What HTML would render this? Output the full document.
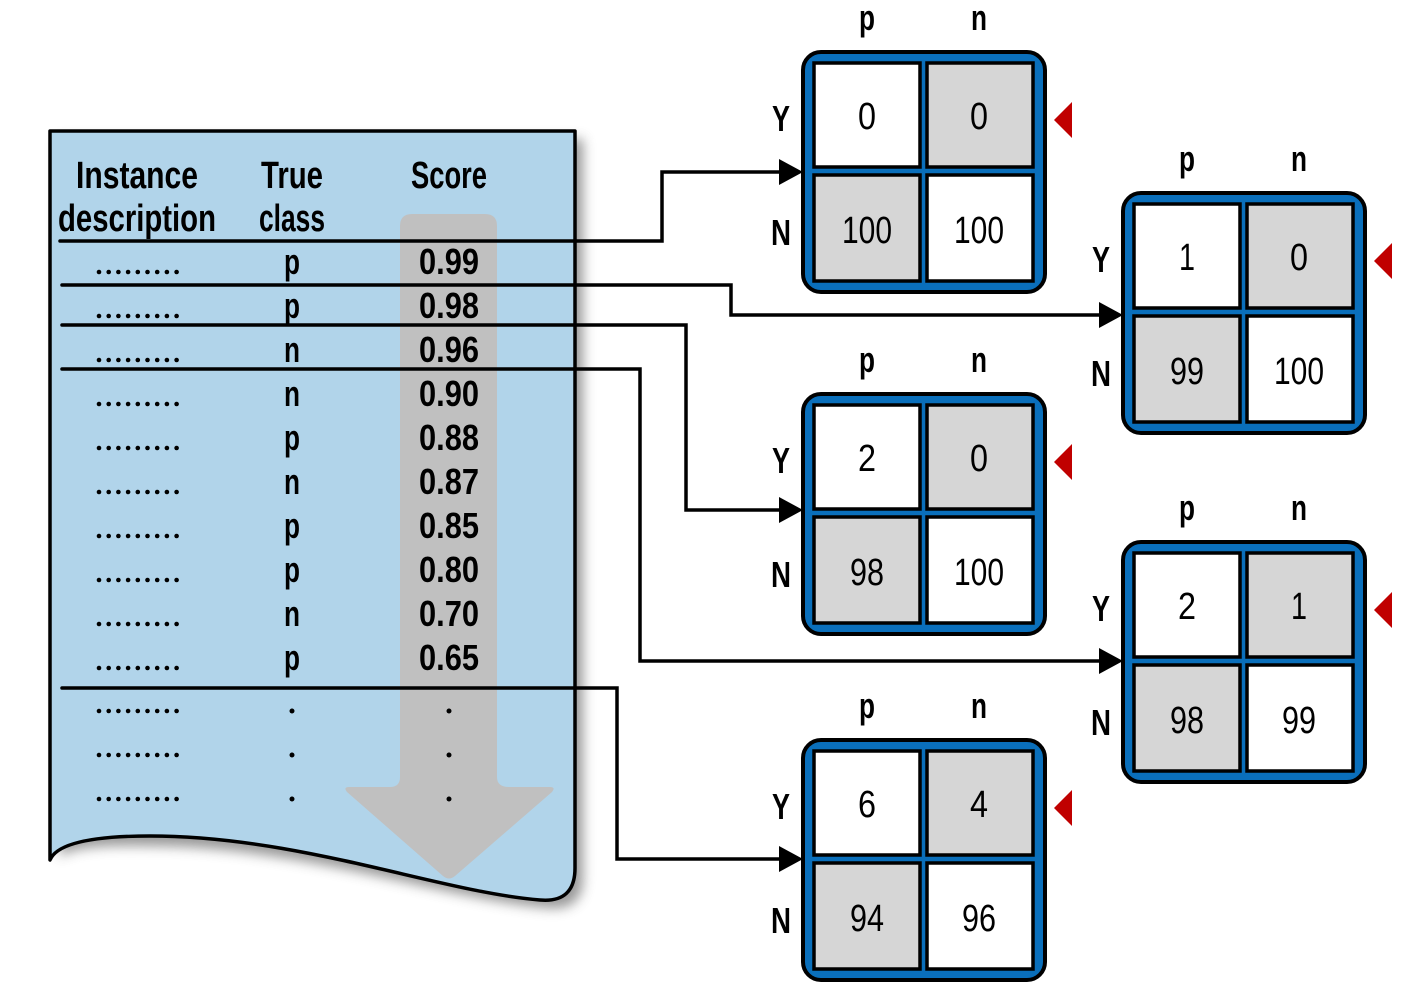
<!DOCTYPE html>
<html><head><meta charset="utf-8"><style>
html,body{margin:0;padding:0;background:#fff;width:1411px;height:1000px;overflow:hidden}
svg{display:block}
text{font-family:"Liberation Sans",sans-serif}
.h{font-size:38px;font-weight:bold}
.r{font-size:36px;font-weight:bold}
.l{font-size:36px;font-weight:bold}
.v{font-size:38px}
</style></head><body>
<svg width="1411" height="1000" viewBox="0 0 1411 1000">
<defs>
<filter id="sh" x="-10%" y="-10%" width="130%" height="130%"><feGaussianBlur stdDeviation="6"/></filter>
<g id="dots"><circle cx="99" cy="0" r="2.3"/><circle cx="108.7" cy="0" r="2.3"/><circle cx="118.4" cy="0" r="2.3"/><circle cx="128.1" cy="0" r="2.3"/><circle cx="137.8" cy="0" r="2.3"/><circle cx="147.5" cy="0" r="2.3"/><circle cx="157.2" cy="0" r="2.3"/><circle cx="166.9" cy="0" r="2.3"/><circle cx="176.6" cy="0" r="2.3"/></g>
<g id="mat">
<rect x="0" y="0" width="242" height="240" rx="18" fill="#0a6fbb" stroke="#000" stroke-width="4"/>
<rect x="11" y="11" width="106" height="104" fill="#fff" stroke="#000" stroke-width="3.5"/>
<rect x="124" y="11" width="106" height="104" fill="#d6d6d6" stroke="#000" stroke-width="3.5"/>
<rect x="11" y="123" width="106" height="106" fill="#d6d6d6" stroke="#000" stroke-width="3.5"/>
<rect x="124" y="123" width="106" height="106" fill="#fff" stroke="#000" stroke-width="3.5"/>
<text class="l" x="64" y="-22" text-anchor="middle" textLength="16" lengthAdjust="spacingAndGlyphs">p</text>
<text class="l" x="176" y="-22" text-anchor="middle" textLength="16" lengthAdjust="spacingAndGlyphs">n</text>
<text class="l" x="-22" y="79" text-anchor="middle" textLength="18" lengthAdjust="spacingAndGlyphs">Y</text>
<text class="l" x="-22" y="193" text-anchor="middle" textLength="20" lengthAdjust="spacingAndGlyphs">N</text>
<polygon points="251,68 269,50 269,86" fill="#c00000"/>
</g>
</defs>
<path d="M58,139 H583 V878 Q583,911 548,908 C450,900 300,846 150,846 Q68,844 60,858 V870 Z" fill="#555" opacity="0.6" filter="url(#sh)"/>
<path d="M50,131 H575 V868 Q575,903 540,900 C440,892 300,836 150,836 Q60,836 50,860 Z" fill="#b1d4ea" stroke="#000" stroke-width="3.5" stroke-linejoin="round"/>
<path d="M412,214 H485 Q497,214 497,226 V777 Q497,787 509,787 H550 Q556,787 552,792 L455,876 Q449,881 443,876 L347,792 Q343,787 349,787 H390 Q400,787 400,777 V226 Q400,214 412,214 Z" fill="#c0c0c0"/>
<text class="h" x="137" y="188" text-anchor="middle" textLength="122" lengthAdjust="spacingAndGlyphs">Instance</text>
<text class="h" x="137" y="231" text-anchor="middle" textLength="158" lengthAdjust="spacingAndGlyphs">description</text>
<text class="h" x="292" y="188" text-anchor="middle" textLength="62" lengthAdjust="spacingAndGlyphs">True</text>
<text class="h" x="292" y="231" text-anchor="middle" textLength="66" lengthAdjust="spacingAndGlyphs">class</text>
<text class="h" x="449" y="188" text-anchor="middle" textLength="76" lengthAdjust="spacingAndGlyphs">Score</text>
<g fill="#000">
<use href="#dots" y="272"/><use href="#dots" y="316"/><use href="#dots" y="360"/><use href="#dots" y="404"/><use href="#dots" y="448"/><use href="#dots" y="492"/><use href="#dots" y="536"/><use href="#dots" y="580"/><use href="#dots" y="624"/><use href="#dots" y="668"/><use href="#dots" y="711"/><use href="#dots" y="755"/><use href="#dots" y="799"/>
<circle cx="292" cy="711" r="2.5"/><circle cx="292" cy="755" r="2.5"/><circle cx="292" cy="799" r="2.5"/>
<circle cx="449" cy="711" r="2.5"/><circle cx="449" cy="755" r="2.5"/><circle cx="449" cy="799" r="2.5"/>
</g>
<g text-anchor="middle">
<text class="r" x="292" y="274" textLength="16" lengthAdjust="spacingAndGlyphs">p</text>
<text class="r" x="292" y="318" textLength="16" lengthAdjust="spacingAndGlyphs">p</text>
<text class="r" x="292" y="362" textLength="16" lengthAdjust="spacingAndGlyphs">n</text>
<text class="r" x="292" y="406" textLength="16" lengthAdjust="spacingAndGlyphs">n</text>
<text class="r" x="292" y="450" textLength="16" lengthAdjust="spacingAndGlyphs">p</text>
<text class="r" x="292" y="494" textLength="16" lengthAdjust="spacingAndGlyphs">n</text>
<text class="r" x="292" y="538" textLength="16" lengthAdjust="spacingAndGlyphs">p</text>
<text class="r" x="292" y="582" textLength="16" lengthAdjust="spacingAndGlyphs">p</text>
<text class="r" x="292" y="626" textLength="16" lengthAdjust="spacingAndGlyphs">n</text>
<text class="r" x="292" y="670" textLength="16" lengthAdjust="spacingAndGlyphs">p</text>
<text class="r" x="449" y="274" textLength="60" lengthAdjust="spacingAndGlyphs">0.99</text>
<text class="r" x="449" y="318" textLength="60" lengthAdjust="spacingAndGlyphs">0.98</text>
<text class="r" x="449" y="362" textLength="60" lengthAdjust="spacingAndGlyphs">0.96</text>
<text class="r" x="449" y="406" textLength="60" lengthAdjust="spacingAndGlyphs">0.90</text>
<text class="r" x="449" y="450" textLength="60" lengthAdjust="spacingAndGlyphs">0.88</text>
<text class="r" x="449" y="494" textLength="60" lengthAdjust="spacingAndGlyphs">0.87</text>
<text class="r" x="449" y="538" textLength="60" lengthAdjust="spacingAndGlyphs">0.85</text>
<text class="r" x="449" y="582" textLength="60" lengthAdjust="spacingAndGlyphs">0.80</text>
<text class="r" x="449" y="626" textLength="60" lengthAdjust="spacingAndGlyphs">0.70</text>
<text class="r" x="449" y="670" textLength="60" lengthAdjust="spacingAndGlyphs">0.65</text>
</g>
<g fill="none" stroke="#000" stroke-width="3.5" stroke-linecap="round">
<polyline points="60,241 662,241 662,172 782,172"/>
<polyline points="62,285 731,285 731,315 1102,315"/>
<polyline points="62,325 686,325 686,510 782,510"/>
<polyline points="62,369 640,369 640,661 1102,661"/>
<polyline points="62,688 617,688 617,859 782,859"/>
</g>
<g fill="#000">
<polygon points="779,159 803,172 779,185"/>
<polygon points="1099,302 1123,315 1099,328"/>
<polygon points="779,497 803,510 779,523"/>
<polygon points="1099,648 1123,661 1099,674"/>
<polygon points="779,846 803,859 779,872"/>
</g>
<g transform="translate(803,52)"><use href="#mat"/>
<text class="v" x="64" y="77" text-anchor="middle" textLength="18" lengthAdjust="spacingAndGlyphs">0</text>
<text class="v" x="176" y="77" text-anchor="middle" textLength="18" lengthAdjust="spacingAndGlyphs">0</text>
<text class="v" x="64" y="191" text-anchor="middle" textLength="50" lengthAdjust="spacingAndGlyphs">100</text>
<text class="v" x="176" y="191" text-anchor="middle" textLength="50" lengthAdjust="spacingAndGlyphs">100</text></g>
<g transform="translate(1123,193)"><use href="#mat"/>
<text class="v" x="64" y="77" text-anchor="middle" textLength="16" lengthAdjust="spacingAndGlyphs">1</text>
<text class="v" x="176" y="77" text-anchor="middle" textLength="18" lengthAdjust="spacingAndGlyphs">0</text>
<text class="v" x="64" y="191" text-anchor="middle" textLength="34" lengthAdjust="spacingAndGlyphs">99</text>
<text class="v" x="176" y="191" text-anchor="middle" textLength="50" lengthAdjust="spacingAndGlyphs">100</text></g>
<g transform="translate(803,394)"><use href="#mat"/>
<text class="v" x="64" y="77" text-anchor="middle" textLength="18" lengthAdjust="spacingAndGlyphs">2</text>
<text class="v" x="176" y="77" text-anchor="middle" textLength="18" lengthAdjust="spacingAndGlyphs">0</text>
<text class="v" x="64" y="191" text-anchor="middle" textLength="34" lengthAdjust="spacingAndGlyphs">98</text>
<text class="v" x="176" y="191" text-anchor="middle" textLength="50" lengthAdjust="spacingAndGlyphs">100</text></g>
<g transform="translate(1123,542)"><use href="#mat"/>
<text class="v" x="64" y="77" text-anchor="middle" textLength="18" lengthAdjust="spacingAndGlyphs">2</text>
<text class="v" x="176" y="77" text-anchor="middle" textLength="16" lengthAdjust="spacingAndGlyphs">1</text>
<text class="v" x="64" y="191" text-anchor="middle" textLength="34" lengthAdjust="spacingAndGlyphs">98</text>
<text class="v" x="176" y="191" text-anchor="middle" textLength="34" lengthAdjust="spacingAndGlyphs">99</text></g>
<g transform="translate(803,740)"><use href="#mat"/>
<text class="v" x="64" y="77" text-anchor="middle" textLength="18" lengthAdjust="spacingAndGlyphs">6</text>
<text class="v" x="176" y="77" text-anchor="middle" textLength="18" lengthAdjust="spacingAndGlyphs">4</text>
<text class="v" x="64" y="191" text-anchor="middle" textLength="34" lengthAdjust="spacingAndGlyphs">94</text>
<text class="v" x="176" y="191" text-anchor="middle" textLength="34" lengthAdjust="spacingAndGlyphs">96</text></g>
</svg>
</body></html>
